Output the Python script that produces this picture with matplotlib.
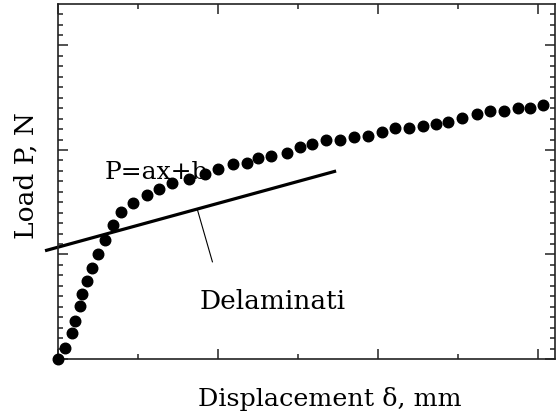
import matplotlib
matplotlib.use('Agg')
import matplotlib.pyplot as plt
from matplotlib.ticker import MultipleLocator

# load-displacement points
disp = [0.0, 0.044, 0.088, 0.106, 0.138, 0.152, 0.181, 0.211, 0.252, 0.296,
        0.346, 0.395, 0.471, 0.554, 0.633, 0.714, 0.821, 0.919, 1.002, 1.094,
        1.179, 1.248, 1.333, 1.429, 1.510, 1.586, 1.677, 1.760, 1.852, 1.939,
        2.024, 2.103, 2.196, 2.279, 2.363, 2.439, 2.525, 2.619, 2.700, 2.789,
        2.877, 2.950, 3.029]
load = [0.0, 0.108, 0.246, 0.368, 0.505, 0.619, 0.746, 0.868, 1.002, 1.137,
        1.282, 1.410, 1.490, 1.567, 1.624, 1.681, 1.721, 1.773, 1.818, 1.863,
        1.880, 1.921, 1.943, 1.974, 2.026, 2.060, 2.096, 2.100, 2.127, 2.134,
        2.172, 2.208, 2.215, 2.227, 2.249, 2.271, 2.309, 2.344, 2.373, 2.376,
        2.399, 2.405, 2.434]

# fitted line P = ax + b, end points
fit_x = [-0.081, 1.738]
fit_y = [1.036, 1.799]

plt.rcParams['font.family'] = 'DejaVu Serif'

fig = plt.figure(figsize=(5.56, 4.16), dpi=100)
ax = fig.add_axes([58/556, 57/416, 497/556, 355/416])

ax.plot(fit_x, fit_y, color='black', lw=2.3, clip_on=False, solid_capstyle='butt')
ax.plot(disp, load, 'o', color='black', markersize=7.6, clip_on=False, zorder=3)

# leader line for the label
ax.plot([0.871, 0.965], [1.43, 0.93], color='black', lw=0.8)
ax.text(0.885, 0.48, 'Delaminati', fontsize=19, ha='left', va='baseline')
ax.text(0.29, 1.72, 'P=ax+b', fontsize=18, ha='left', va='baseline')

ax.set_xlim(0, 3.106)
ax.set_ylim(0, 3.397)
ax.xaxis.set_major_locator(MultipleLocator(1))
ax.xaxis.set_minor_locator(MultipleLocator(0.5))
ax.yaxis.set_major_locator(MultipleLocator(1))
ax.yaxis.set_minor_locator(MultipleLocator(0.1))
ax.tick_params(which='both', direction='in', top=True, right=True,
               labelbottom=False, labelleft=False, color='#333333')
ax.tick_params(which='major', length=7, width=1.2)
ax.tick_params(which='minor', length=3.5, width=1.2)
for s in ax.spines.values():
    s.set_linewidth(1.2)
    s.set_color('#222222')

ax.set_xlabel('Displacement δ, mm', fontsize=18.3)
ax.set_ylabel('Load P, N', fontsize=19)
ax.xaxis.set_label_coords(0.547, -0.113, transform=ax.transAxes)
ax.yaxis.set_label_coords(-0.065, 0.518, transform=ax.transAxes)
ax.xaxis.label.set_va('center')
ax.yaxis.label.set_va('center')

fig.savefig('out.png', dpi=100)
